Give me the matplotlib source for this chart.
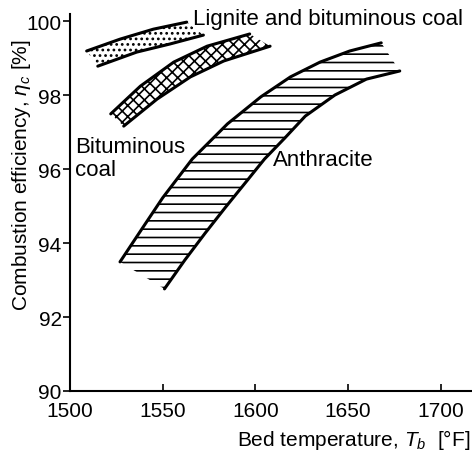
import numpy as np
import matplotlib
matplotlib.use("Agg")
import matplotlib.pyplot as plt

plt.rcParams['font.family'] = ['Liberation Sans', 'DejaVu Sans']
plt.rcParams['mathtext.fontset'] = 'custom'
plt.rcParams['mathtext.rm'] = 'Liberation Sans'
plt.rcParams['mathtext.it'] = 'Liberation Sans:italic'
plt.rcParams['hatch.linewidth'] = 1.2

# band edges: bed temperature [F], efficiency [%]
lignite_upper_t = [1509, 1527, 1545, 1563]
lignite_upper_e = [99.19, 99.51, 99.78, 99.97]
lignite_lower_t = [1515, 1536, 1554, 1572]
lignite_lower_e = [98.78, 99.16, 99.38, 99.62]

bitum_upper_t = [1522, 1538, 1556, 1574, 1597]
bitum_upper_e = [97.49, 98.24, 98.89, 99.32, 99.65]
bitum_lower_t = [1529, 1547, 1565, 1583, 1608]
bitum_lower_e = [97.16, 97.89, 98.49, 98.92, 99.32]

anth_upper_t = [1527, 1538, 1550, 1566, 1585, 1603, 1619, 1635, 1651, 1668]
anth_upper_e = [93.49, 94.32, 95.22, 96.27, 97.22, 97.95, 98.49, 98.89, 99.19, 99.41]
anth_lower_t = [1551, 1562, 1573, 1584, 1595, 1605, 1616, 1627, 1643, 1660, 1678]
anth_lower_e = [92.76, 93.54, 94.27, 94.97, 95.65, 96.27, 96.84, 97.43, 98.00, 98.43, 98.65]

xticks = [1500, 1550, 1600, 1650, 1700]
yticks = [90, 92, 94, 96, 98, 100]


def band(ax, ut, ue, lt, le, hatch):
    xs = np.r_[ut, lt[::-1]]
    ys = np.r_[ue, le[::-1]]
    ax.fill(xs, ys, facecolor='none', edgecolor='black', linewidth=0, hatch=hatch)
    ax.plot(ut, ue, color='black', lw=2.2, solid_capstyle='round', solid_joinstyle='round')
    ax.plot(lt, le, color='black', lw=2.2, solid_capstyle='round', solid_joinstyle='round')


fig = plt.figure(figsize=(4.72, 4.56), dpi=100)
ax = fig.add_axes([70 / 472, 64 / 456, 402 / 472, 377 / 456])

band(ax, lignite_upper_t, lignite_upper_e, lignite_lower_t, lignite_lower_e, '...')
band(ax, bitum_upper_t, bitum_upper_e, bitum_lower_t, bitum_lower_e, 'xxx')
band(ax, anth_upper_t, anth_upper_e, anth_lower_t, anth_lower_e, '--')

ax.text(1566.5, 100.08, 'Lignite and bituminous coal', fontsize=16, va='center', ha='left')
ax.text(1502.5, 96.62, 'Bituminous', fontsize=16, va='center', ha='left')
ax.text(1502.5, 96.0, 'coal', fontsize=16, va='center', ha='left')
ax.text(1609.5, 96.27, 'Anthracite', fontsize=16, va='center', ha='left')

ax.set_xlim(1500, 1717)
ax.set_ylim(90, 100.19)
ax.set_xticks(xticks)
ax.set_yticks(yticks)
ax.tick_params(axis='x', direction='in', length=5, width=1.2, labelsize=15, pad=7)
ax.tick_params(axis='y', direction='out', length=5, width=1.2, labelsize=15, pad=1)
for s in ['top', 'right']:
    ax.spines[s].set_visible(False)
for s in ['left', 'bottom']:
    ax.spines[s].set_linewidth(1.5)

ax.set_xlabel('Bed temperature, $T_b$  [°F]', fontsize=15, loc='right')
ax.set_ylabel('Combustion efficiency, $\\eta_c$ [%]', fontsize=15)
ax.xaxis.set_label_coords(0.995, -0.095)
ax.yaxis.set_label_coords(-0.092, 0.575)

fig.savefig('out.png', dpi=100)
